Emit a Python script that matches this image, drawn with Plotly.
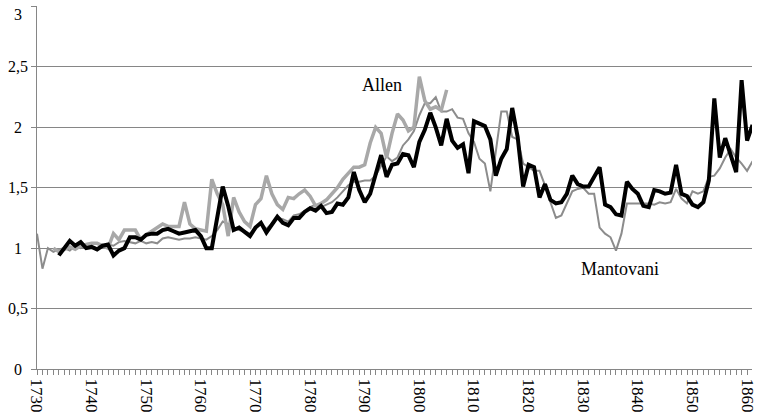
import plotly.graph_objects as go

# Real wage index series, one value per year
black_start = 1734
black = [
    0.94, 1.00, 1.06, 1.02, 1.05, 1.00, 1.01, 0.99, 1.02, 1.03,   # 1734-1743
    0.94, 0.98, 1.00, 1.09, 1.09, 1.07, 1.11, 1.12, 1.12, 1.15,   # 1744-1753
    1.16, 1.14, 1.12, 1.13, 1.14, 1.15, 1.10, 1.00, 1.00, 1.25,   # 1754-1763
    1.51, 1.35, 1.15, 1.17, 1.13, 1.10, 1.17, 1.21, 1.13, 1.20,   # 1764-1773
    1.26, 1.21, 1.19, 1.25, 1.25, 1.30, 1.33, 1.31, 1.35, 1.29,   # 1774-1783
    1.30, 1.37, 1.36, 1.42, 1.63, 1.48, 1.38, 1.45, 1.60, 1.77,   # 1784-1793
    1.59, 1.69, 1.70, 1.78, 1.77, 1.67, 1.88, 1.98, 2.12, 2.00,   # 1794-1803
    1.85, 2.07, 1.89, 1.83, 1.86, 1.62, 2.05, 2.03, 2.01, 1.90,   # 1804-1813
    1.60, 1.74, 1.82, 2.16, 1.92, 1.51, 1.69, 1.67, 1.42, 1.53,   # 1814-1823
    1.40, 1.37, 1.38, 1.45, 1.60, 1.53, 1.51, 1.51, 1.59, 1.67,   # 1824-1833
    1.36, 1.34, 1.28, 1.27, 1.55, 1.49, 1.45, 1.35, 1.34, 1.48,   # 1834-1843
    1.47, 1.45, 1.46, 1.69, 1.45, 1.43, 1.36, 1.34, 1.38, 1.56,   # 1844-1853
    2.24, 1.75, 1.91, 1.78, 1.63, 2.39, 1.89, 2.02,               # 1854-1861
]

allen_start = 1733
allen = [
    1.00, 0.97, 0.99, 1.01, 0.99, 1.02, 1.03, 1.04, 1.04, 1.02,   # 1733-1742
    1.00, 1.12, 1.07, 1.15, 1.15, 1.15, 1.07, 1.11, 1.14, 1.17,   # 1743-1752
    1.20, 1.18, 1.18, 1.18, 1.38, 1.20, 1.16, 1.15, 1.14, 1.57,   # 1753-1762
    1.45, 1.36, 1.10, 1.42, 1.30, 1.22, 1.18, 1.36, 1.41, 1.60,   # 1763-1772
    1.45, 1.36, 1.32, 1.42, 1.41, 1.45, 1.48, 1.43, 1.35, 1.37,   # 1773-1782
    1.40, 1.45, 1.50, 1.57, 1.62, 1.67, 1.67, 1.69, 1.87, 2.00,   # 1783-1792
    1.95, 1.75, 1.95, 2.11, 2.06, 1.97, 2.00, 2.42, 2.22, 2.15,   # 1793-1802
    2.17, 2.14, 2.31,                                             # 1803-1805
]

mant_start = 1730
mantovani = [
    1.12, 0.83, 1.00, 0.97, 0.99, 1.00, 0.98, 1.02, 1.00, 1.03,   # 1730-1739
    1.01, 1.00, 1.02, 1.03, 1.02, 1.05, 1.06, 1.05, 1.04, 1.06,   # 1740-1749
    1.04, 1.05, 1.04, 1.08, 1.09, 1.08, 1.07, 1.08, 1.08, 1.09,   # 1750-1759
    1.08, 1.07, 1.10, 1.15, 1.22, 1.20, 1.17, 1.15, 1.14, 1.12,   # 1760-1769
    1.17, 1.20, 1.16, 1.20, 1.25, 1.24, 1.22, 1.27, 1.28, 1.31,   # 1770-1779
    1.34, 1.36, 1.34, 1.36, 1.38, 1.42, 1.47, 1.52, 1.55, 1.55,   # 1780-1789
    1.56, 1.56, 1.60, 1.68, 1.76, 1.72, 1.75, 1.85, 1.90, 1.97,   # 1790-1799
    2.10, 2.20, 2.20, 2.25, 2.13, 2.13, 2.15, 2.08, 2.07, 1.95,   # 1800-1809
    1.88, 1.74, 1.70, 1.47, 1.78, 2.13, 2.13, 1.92, 1.90, 1.70,   # 1810-1819
    1.67, 1.64, 1.64, 1.52, 1.38, 1.25, 1.27, 1.37, 1.47, 1.49,   # 1820-1829
    1.50, 1.45, 1.45, 1.17, 1.12, 1.09, 0.98, 1.12, 1.37, 1.37,   # 1830-1839
    1.37, 1.37, 1.37, 1.36, 1.38, 1.37, 1.38, 1.49, 1.41, 1.37,   # 1840-1849
    1.47, 1.45, 1.47, 1.59, 1.60, 1.66, 1.75, 1.82, 1.75, 1.70,   # 1850-1859
    1.64, 1.72,                                                   # 1860-1861
]

y_ticks = [0, 0.5, 1, 1.5, 2, 2.5, 3]
y_tick_labels = ["0", "0,5", "1", "1,5", "2", "2,5", "3"]
x_ticks = list(range(1730, 1861, 10))
x_tick_labels = [str(v) for v in x_ticks]

font_family = "Liberation Serif"
grid_color = "#868686"

fig = go.Figure()

fig.add_trace(go.Scatter(
    x=list(range(mant_start, mant_start + len(mantovani))), y=mantovani,
    mode="lines", line=dict(color="#8c8c8c", width=2), name="Mantovani",
))
fig.add_trace(go.Scatter(
    x=list(range(allen_start, allen_start + len(allen))), y=allen,
    mode="lines", line=dict(color="#a8a8a8", width=3.5), name="Allen",
))
fig.add_trace(go.Scatter(
    x=list(range(black_start, black_start + len(black))), y=black,
    mode="lines", line=dict(color="#000000", width=4), name="Index",
))

# series captions
fig.add_annotation(x=1793.1, y=2.35, text="Allen", showarrow=False,
                   xanchor="center", yanchor="middle",
                   font=dict(family=font_family, size=18, color="#000000"))
fig.add_annotation(x=1836.8, y=0.83, text="Mantovani", showarrow=False,
                   xanchor="center", yanchor="middle",
                   font=dict(family=font_family, size=18, color="#000000"))

# y tick labels, centred in the left gutter; the top one sits just below its line
for val, txt in zip(y_ticks, y_tick_labels):
    top = val == y_ticks[-1]
    fig.add_annotation(x=-0.027, xref="paper", y=val, yref="y", text=txt,
                       showarrow=False, xanchor="center",
                       yanchor="top" if top else "middle",
                       yshift=2 if top else 0,
                       font=dict(family=font_family, size=16, color="#000000"))

fig.update_layout(
    width=757, height=420,
    margin=dict(l=37, r=0, t=6, b=51),
    paper_bgcolor="white", plot_bgcolor="white",
    showlegend=False,
    font=dict(family=font_family, size=16, color="#000000"),
)
fig.update_xaxes(
    range=[1730, 1860.9],
    tickmode="array", tickvals=x_ticks, ticktext=x_tick_labels,
    tickangle=90, ticks="outside", ticklen=5, tickcolor=grid_color,
    minor=dict(ticks="outside", dtick=1, tick0=1730, ticklen=5,
               tickcolor=grid_color, showgrid=False),
    showgrid=False, zeroline=False,
    showline=True, linecolor=grid_color, linewidth=1,
    tickfont=dict(family=font_family, size=17),
    ticklabeloverflow="allow",
)
fig.update_yaxes(
    range=[0, 3.004],
    tickmode="array", tickvals=y_ticks, showticklabels=False,
    ticks="outside", ticklen=5, tickcolor=grid_color,
    showgrid=True, gridcolor=grid_color, gridwidth=1,
    zeroline=False, showline=True, linecolor=grid_color, linewidth=1,
)

fig.write_html("out.html")
